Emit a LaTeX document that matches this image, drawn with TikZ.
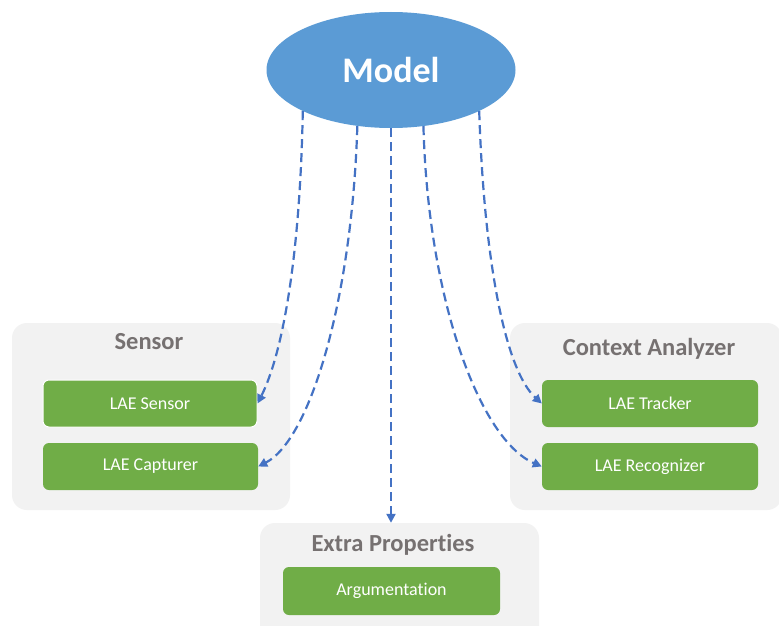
\documentclass[tikz,border=0pt]{standalone}
\usepackage{fontspec}
\setmainfont{Carlito}[Ligatures=NoCommon]
\usetikzlibrary{shapes.geometric,arrows.meta}
\definecolor{modelblue}{HTML}{5B9BD5}
\definecolor{lgreen}{HTML}{70AD47}
\definecolor{grpgray}{HTML}{F2F2F2}
\definecolor{titlegray}{HTML}{767171}
\definecolor{arrowblue}{HTML}{4472C4}
\begin{document}
\begin{tikzpicture}[x=1pt,y=-1pt,
 group/.style={draw=none,fill=grpgray,rounded corners=15pt,inner sep=0pt},
 grouptitle/.style={text=titlegray,font=\bfseries\fontsize{24.5}{28}\selectfont,inner sep=0pt},
 comp/.style={fill=lgreen,rounded corners=6pt,text=white,font=\fontsize{18}{21}\selectfont,minimum height=47pt,inner sep=0pt},
 link/.style={arrowblue,line width=2.2pt,dash pattern=on 9pt off 5pt,-{Triangle[length=9pt,width=9pt]}}
]
\clip (0,0) rectangle (779,626);
\fill[white] (0,0) rectangle (779,626);
\node[ellipse,fill=modelblue,minimum width=249pt,minimum height=116pt,inner sep=0pt,text=white,font=\bfseries\fontsize{36}{42}\selectfont] (model) at (391,70) {Model};

\node[group,minimum width=278pt,minimum height=187pt] (sensorgrp) at (151,416.5) {};
\node[group,minimum width=272pt,minimum height=187pt] (ctxgrp) at (646,416.5) {};
\node[group,minimum width=279pt,minimum height=122pt] (extragrp) at (399.5,584) {};

\node[grouptitle] (sensortitle) at (149,342) {Sensor};
\node[grouptitle] (ctxtitle) at (649,349) {Context Analyzer};
\node[grouptitle] (extratitle) at (393,545) {Extra Properties};

\node[comp,draw=white,line width=1pt,minimum width=214pt] (sensor) at (150,403.5) {LAE Sensor};
\node[comp,minimum width=215pt] (capturer) at (150.5,466.5) {LAE Capturer};
\node[comp,minimum width=216pt] (tracker) at (650,403.5) {LAE Tracker};
\node[comp,minimum width=216pt] (recognizer) at (650,466.5) {LAE Recognizer};
\node[comp,minimum width=217pt,minimum height=48pt] (argum) at (391.5,591) {Argumentation};

\draw[link] (model.205) .. controls (300,260) and (282,355) .. (sensor.east);
\draw[link] (model.239) .. controls (352,300) and (310,440) .. (capturer.east);
\draw[link] (model.south) -- (model.south |- extragrp.north);
\draw[link] (model.300) .. controls (428,300) and (480,440) .. (recognizer.west);
\draw[link] (model.335) .. controls (484,260) and (505,370) .. (tracker.west);
\end{tikzpicture}
\end{document}
